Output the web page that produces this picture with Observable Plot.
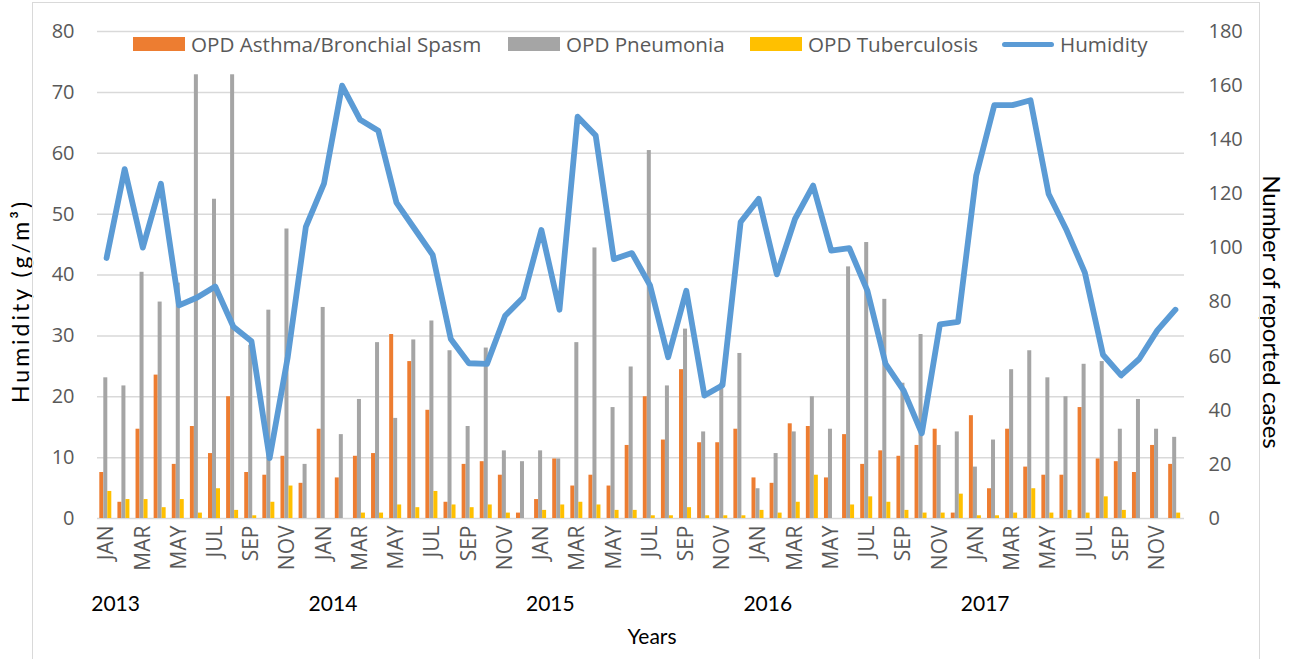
<!DOCTYPE html>
<html>
<head>
<meta charset="utf-8">
<script src="https://cdn.jsdelivr.net/npm/d3@7"></script>
<script src="https://cdn.jsdelivr.net/npm/@observablehq/plot@0.6"></script>
<style>
  html, body { margin: 0; padding: 0; background: #fff; }
  #wrap { position: relative; width: 1290px; height: 659px; overflow: hidden; }
  #frame { position: absolute; left: 32px; top: 2px; width: 1228px; height: 700px; border: 1.5px solid #d9d9d9; box-sizing: border-box; pointer-events: none; }
  .leg { position: absolute; top: 30px; height: 28px; display: flex; align-items: center; font-family: "Open Sans", sans-serif; font-size: 20.6px; color: #595959; white-space: nowrap; }
  .sw { width: 52px; height: 14px; margin-right: 6px; }
  .ln { width: 52px; height: 5px; border-radius: 3px; margin-right: 6px; }
  #chart { position: absolute; left: 0; top: 0; }
  .ytitle-left text { letter-spacing: 3px; }
</style>
</head>
<body>
<div id="wrap">
  <div id="chart"></div>
  <div id="frame"></div>
  <div id="legend"></div>
</div>
<script>
const monthNames = ["JAN","FEB","MAR","APR","MAY","JUN","JUL","AUG","SEP","OCT","NOV","DEC"];
const years = ["2013","2014","2015","2016","2017"];

// Humidity (g/m³), left axis, Jan 2013 .. Dec 2017
const humidity = [42.8,57.4,44.5,55.0,35.0,36.3,38.1,31.5,29.1,9.9,26.5,47.9,
  55.0,71.1,65.5,63.7,51.9,47.6,43.3,29.5,25.5,25.4,33.3,36.3,
  47.4,34.3,66.0,62.9,42.6,43.6,38.3,26.5,37.4,20.2,21.9,48.7,
  52.5,40.1,49.2,54.7,44.0,44.4,37.4,25.4,21.0,14.0,31.9,32.3,
  56.3,67.9,67.9,68.7,53.3,47.3,40.4,26.9,23.5,26.2,30.9,34.3];

// Number of reported cases, right axis
const asthma = [17,6,33,53,20,34,24,45,17,16,23,13,
  33,15,23,24,68,58,40,6,20,21,16,2,
  7,22,12,16,12,27,45,29,55,28,28,33,
  15,13,35,34,15,31,20,25,23,27,33,2,
  38,11,33,19,16,16,41,22,21,17,27,20];
const pneumonia = [52,49,91,80,87,164,118,164,64,77,107,20,
  78,31,44,65,37,66,73,62,34,63,25,21,
  25,22,65,100,41,56,136,49,70,32,50,61,
  11,24,32,45,33,93,102,81,50,68,27,32,
  19,29,55,62,52,45,57,58,33,44,33,30];
const tuberculosis = [10,7,7,4,7,2,11,3,1,6,12,0,
  0,0,2,2,5,4,10,5,4,5,2,0,
  3,5,6,5,3,3,1,1,4,1,1,1,
  3,2,6,16,0,5,8,6,3,2,2,9,
  1,1,2,11,2,3,2,8,3,0,0,2];

const humidityTicks = [0,10,20,30,40,50,60,70,80];
const caseTicks = [0,20,40,60,80,100,120,140,160,180];

const seriesNames = ["OPD Asthma/Bronchial Spasm","OPD Pneumonia","OPD Tuberculosis","Humidity"];
const seriesColors = ["#ED7D31","#A5A5A5","#FFC000","#5B9BD5"];

const k = 80 / 180; // cases -> humidity units
const rows = d3.range(60).map(i => ({
  i, humidity: humidity[i], asthma: asthma[i], pneumonia: pneumonia[i], tb: tuberculosis[i]
}));

const bw = 4;
const band = 1087 / 60;
const chart = Plot.plot({
  width: 1290, height: 659,
  marginLeft: 97, marginRight: 106, marginTop: 31, marginBottom: 141,
  x: {type: "band", domain: d3.range(60), padding: 0, round: false, axis: null, label: null},
  y: {domain: [0, 80], axis: null, label: null},
  style: {fontFamily: "Open Sans, sans-serif", fontSize: "20px", color: "#595959", background: "transparent", overflow: "visible"},
  marks: [
    Plot.ruleY(humidityTicks, {stroke: "#d9d9d9", strokeWidth: 1.5}),
    Plot.barY(rows, {x: "i", y: d => d.asthma * k, fill: seriesColors[0], insetLeft: 2.3, insetRight: band - 2.3 - bw}),
    Plot.barY(rows, {x: "i", y: d => d.pneumonia * k, fill: seriesColors[1], insetLeft: 6.3, insetRight: band - 6.3 - bw}),
    Plot.barY(rows, {x: "i", y: d => d.tb * k, fill: seriesColors[2], insetLeft: 10.3, insetRight: band - 10.3 - bw}),
    Plot.line(rows, {x: "i", y: "humidity", stroke: seriesColors[3], strokeWidth: 5.8, strokeLinejoin: "round", strokeLinecap: "round"}),
    Plot.axisX({ticks: d3.range(0, 60, 2), tickFormat: i => monthNames[i % 12], tickRotate: -90, tickSize: 0, tickPadding: 7, fill: "#595959", fontSize: 21, label: null}),
    Plot.axisX({ticks: d3.range(0, 60, 12), tickFormat: i => years[i / 12], tickSize: 0, tickPadding: 78, dx: 9, fill: "#000", fontFamily: "Lato, sans-serif", fontSize: 21, label: null}),
    Plot.axisY({anchor: "left", ticks: humidityTicks, tickSize: 0, tickPadding: 23, fill: "#595959", fontSize: 20, label: null}),
    Plot.axisY({anchor: "right", ticks: caseTicks.map(v => v * k), tickFormat: v => String(Math.round(v / k)), tickSize: 0, tickPadding: 24, fill: "#595959", fontSize: 20, label: null}),
    Plot.text(["Humidity (g/m³)"], {frameAnchor: "left", dx: -76, dy: 26, rotate: -90, textAnchor: "middle", fill: "#000", fontFamily: "Lato, sans-serif", fontSize: 23, className: "ytitle-left"}),
    Plot.text(["Number of reported cases"], {frameAnchor: "right", dx: 86, dy: 37, rotate: 90, textAnchor: "middle", fill: "#000", fontFamily: "Lato, sans-serif", fontSize: 24}),
    Plot.text(["Years"], {frameAnchor: "bottom", dx: 11, dy: 125, fill: "#000", fontFamily: "Lato, sans-serif", fontSize: 21})
  ]
});
document.getElementById("chart").appendChild(chart);

// Legend
const legendLefts = [133, 508, 750, 1002];
const legend = document.getElementById("legend");
seriesNames.forEach((name, j) => {
  const item = document.createElement("div");
  item.className = "leg";
  item.style.left = legendLefts[j] + "px";
  const sw = document.createElement("div");
  sw.className = j === 3 ? "ln" : "sw";
  sw.style.background = seriesColors[j];
  const t = document.createElement("span");
  t.textContent = name;
  item.appendChild(sw);
  item.appendChild(t);
  legend.appendChild(item);
});
</script>
</body>
</html>
